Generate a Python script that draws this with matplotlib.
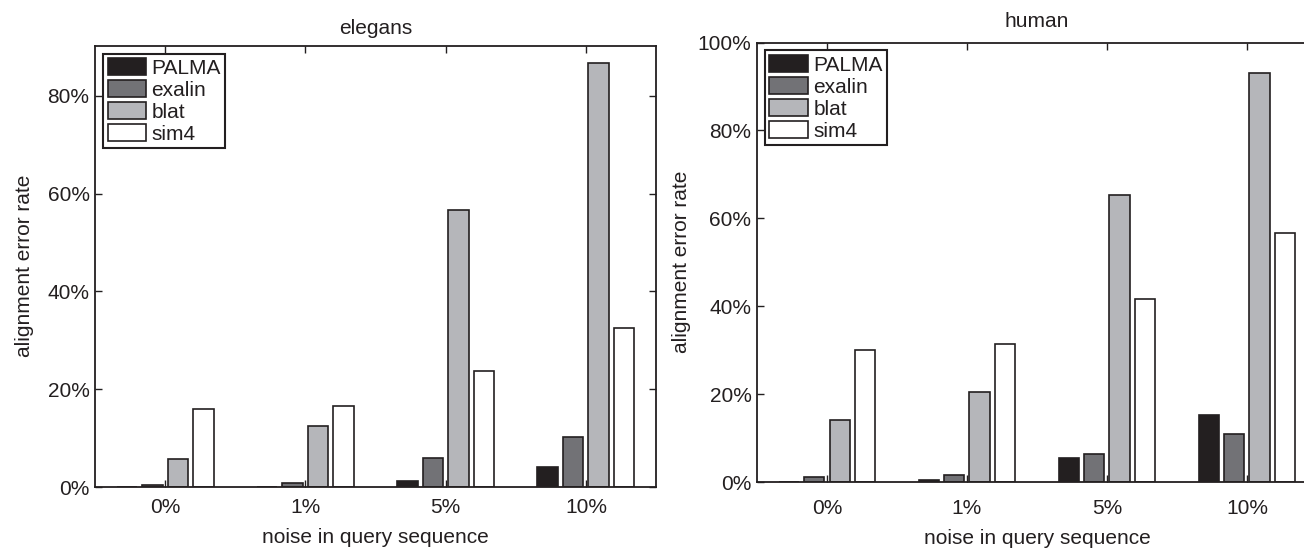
import numpy as np
import matplotlib
matplotlib.use("Agg")
import matplotlib.pyplot as plt
from matplotlib.ticker import FuncFormatter

plt.rcParams['font.family'] = ['Liberation Sans', 'DejaVu Sans']

# data (fractions)
noise_levels = ['0%', '1%', '5%', '10%']
methods = ['PALMA', 'exalin', 'blat', 'sim4']

elegans_palma = [0.001, 0.001, 0.012, 0.041]
elegans_exalin = [0.004, 0.009, 0.060, 0.103]
elegans_blat = [0.057, 0.124, 0.566, 0.867]
elegans_sim4 = [0.159, 0.166, 0.237, 0.326]

human_palma = [0.001, 0.0055, 0.054, 0.152]
human_exalin = [0.011, 0.015, 0.064, 0.110]
human_blat = [0.140, 0.204, 0.653, 0.931]
human_sim4 = [0.300, 0.314, 0.417, 0.567]

colors = ['#231f20', '#727276', '#b5b6ba', '#ffffff']
ink = '#231f20'
FS = 15

fig = plt.figure(figsize=(13.04, 5.48), dpi=100)
ax1 = fig.add_axes([0.0729, 0.1113, 0.4302, 0.8055])
ax2 = fig.add_axes([0.5805, 0.1204, 0.4294, 0.8020])

pct = FuncFormatter(lambda v, p: f"{v*100:.0f}%")


def draw(ax, series, title, ytop, ticks, title_pad, ylabelpad, xpad, xlabelpad):
    x = np.arange(1, len(noise_levels) + 1)
    step = 0.727 / 4
    for i, (vals, c, name) in enumerate(zip(series, colors, methods)):
        ax.bar(x + (i - 1.5) * step, vals, width=0.8 * step, color=c,
               edgecolor=ink, linewidth=1.2, label=name, zorder=2)
    ax.set_xlim(0.5, 4.5)
    ax.set_ylim(0, ytop)
    ax.set_xticks(x)
    ax.set_xticklabels(noise_levels)
    ax.set_yticks(ticks)
    ax.yaxis.set_major_formatter(pct)
    ax.tick_params(direction='in', top=True, right=True, length=5,
                   width=1.0, color=ink, labelcolor=ink, labelsize=FS)
    ax.tick_params(axis='x', pad=xpad)
    ax.tick_params(axis='y', pad=4)
    for s in ax.spines.values():
        s.set_color(ink)
        s.set_linewidth(1.3)
    ax.set_title(title, fontsize=FS, color=ink, pad=title_pad)
    ax.set_xlabel('noise in query sequence', fontsize=FS, color=ink, labelpad=xlabelpad)
    ax.set_ylabel('alignment error rate', fontsize=FS, color=ink, labelpad=ylabelpad)
    leg = ax.legend(loc='upper left', fontsize=FS, fancybox=False,
                    edgecolor=ink, framealpha=1, borderaxespad=0.38,
                    borderpad=0.22, labelspacing=0.12, handlelength=1.85,
                    handleheight=0.85, handletextpad=0.25)
    leg.get_frame().set_linewidth(1.5)
    for t in leg.get_texts():
        t.set_color(ink)


draw(ax1, [elegans_palma, elegans_exalin, elegans_blat, elegans_sim4],
     'elegans', 0.903, [0, 0.2, 0.4, 0.6, 0.8], 8, 10, 8, 8)
draw(ax2, [human_palma, human_exalin, human_blat, human_sim4],
     'human', 1.0, [0, 0.2, 0.4, 0.6, 0.8, 1.0], 11, 5, 12, 8)

fig.savefig('out.png', dpi=100)
